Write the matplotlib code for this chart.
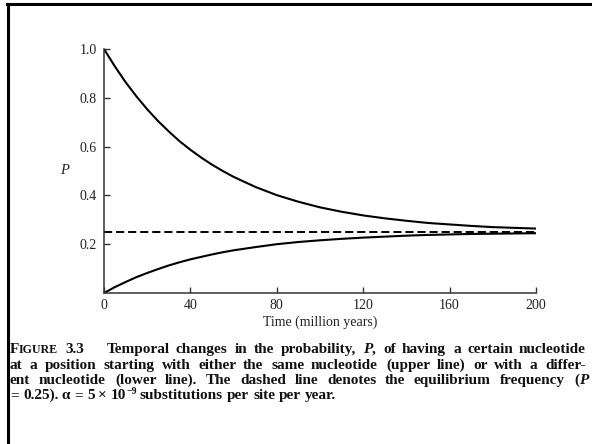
import matplotlib
matplotlib.use('Agg')
import matplotlib.pyplot as plt
from matplotlib.lines import Line2D

# ---- data ----
time_myr = [0, 5, 10, 15, 20, 25, 30, 35, 40, 45, 50, 55, 60,
            70, 80, 90, 100, 110, 120, 130, 140, 150, 160, 170, 180, 190, 200]
p_same = [1.000, 0.929, 0.864, 0.806, 0.753, 0.705, 0.662, 0.622, 0.587, 0.555, 0.526, 0.500, 0.476,
          0.435, 0.401, 0.374, 0.351, 0.333, 0.318, 0.306, 0.296, 0.287, 0.281, 0.275, 0.270, 0.267, 0.264]
p_diff = [0.000, 0.024, 0.045, 0.065, 0.082, 0.098, 0.113, 0.126, 0.138, 0.148, 0.158, 0.167, 0.175,
          0.188, 0.200, 0.209, 0.216, 0.222, 0.227, 0.231, 0.235, 0.238, 0.240, 0.242, 0.243, 0.244, 0.245]
p_equilibrium = 0.25
x_ticks = [0, 40, 80, 120, 160, 200]
x_tick_labels = ['0', '40', '80', '120', '160', '200']
y_ticks = [0.2, 0.4, 0.6, 0.8, 1.0]
y_tick_labels = ['0.2', '0.4', '0.6', '0.8', '1.0']

W, H = 592, 444
serif = ['Liberation Serif', 'DejaVu Serif']
fig = plt.figure(figsize=(W / 100, H / 100), dpi=100)
fig.patch.set_facecolor('white')

ax = fig.add_axes([104 / W, (H - 293) / H, 432 / W, 244 / H])
ax.plot(time_myr, p_same, color='black', lw=1.5)
ax.plot(time_myr, p_diff, color='black', lw=1.5)
ax.plot([time_myr[0], time_myr[-1]], [p_equilibrium, p_equilibrium],
        color='black', lw=1.4, ls=(0, (4.2, 2.0)))
ax.set_xlim(0, 200)
ax.set_ylim(0, 1.0)
for s in ['top', 'right']:
    ax.spines[s].set_visible(False)
for s in ['left', 'bottom']:
    ax.spines[s].set_linewidth(1.1)
    ax.spines[s].set_color('#333333')
ax.set_xticks(x_ticks)
ax.set_xticklabels(x_tick_labels)
ax.set_yticks(y_ticks)
ax.set_yticklabels(y_tick_labels)
ax.tick_params(direction='in', length=4, width=1.0, color='#333333',
               labelsize=10, labelcolor='#222222')
ax.tick_params(axis='x', pad=4)
ax.tick_params(axis='y', pad=5)
for lab in ax.get_xticklabels() + ax.get_yticklabels():
    lab.set_family(serif)
ax.set_xlabel('Time (million years)', family=serif, fontsize=10, color='#222222', labelpad=3)
fig.text(65 / W, 1 - 171 / H, 'P', family=serif, style='italic', fontsize=10.5,
         ha='center', va='center', color='#222222')

# frame lines (left and top)
fig.add_artist(Line2D([8 / W, 8 / W], [0, 1 - 4 / H], transform=fig.transFigure, color='black', lw=2.2))
fig.add_artist(Line2D([7 / W, 1], [1 - 4 / H, 1 - 4 / H], transform=fig.transFigure, color='black', lw=2.2))

# ---- caption ----
fs = 11.0
fig.canvas.draw()
renderer = fig.canvas.get_renderer()


def make_word(segs):
    arts = []
    width = 0
    for seg in segs:
        text = seg[0]
        size = seg[1] if len(seg) > 1 else fs
        style = seg[2] if len(seg) > 2 else 'normal'
        dy = seg[3] if len(seg) > 3 else 0
        t = fig.text(0, 0, text, family=serif, fontsize=size, style=style, weight='bold',
                     ha='left', va='baseline', color='#111111')
        w = t.get_window_extent(renderer).width
        arts.append((t, width, dy))
        width += w
    return arts, width


def place_line(words, y, x0, x1=None, gap_weights=None):
    built = [make_word(w) for w in words]
    total = sum(b[1] for b in built)
    n = len(built) - 1
    if gap_weights is None:
        gap_weights = [1] * n
    if x1 is not None:
        unit = (x1 - x0 - total) / sum(gap_weights)
    else:
        unit = fs * 100 / 72 * 0.25
    x = x0
    for i, (arts, w) in enumerate(built):
        for t, off, dy in arts:
            t.set_position((round(x + off) / W, 1 - round(y - dy) / H))
        x += w
        if i < n:
            x += unit * gap_weights[i]


def plain(s):
    return [[(w,)] for w in s.split()]


line1 = [[('F',), ('IGURE', fs * 0.78)], [('3.3',)], [('Temporal',)]] + plain('changes in the') + \
    [[('probability,',)], [('P', fs, 'italic'), (',',)], [('of',)]] + plain('having a certain nucleotide')
gw1 = [1] * (len(line1) - 1)
gw1[1] = 3.5
place_line(line1, 353, 10, 586, gw1)

line2 = plain('at a position starting with either the same nucleotide (upper line) or with a differ-')
place_line(line2, 369, 10, 586)

line3 = plain('ent nucleotide (lower line). The dashed line denotes the equilibrium frequency') + \
    [[('(',), ('P', fs, 'italic')]]
place_line(line3, 384, 10, 588)

line4 = plain('= 0.25). α = 5 ×') + [[('10',), ('\u22129', fs * 0.65, 'normal', 4.5)]] + \
    plain('substitutions per site per year.')
place_line(line4, 399, 10)

fig.savefig('out.png', dpi=100, facecolor='white')
